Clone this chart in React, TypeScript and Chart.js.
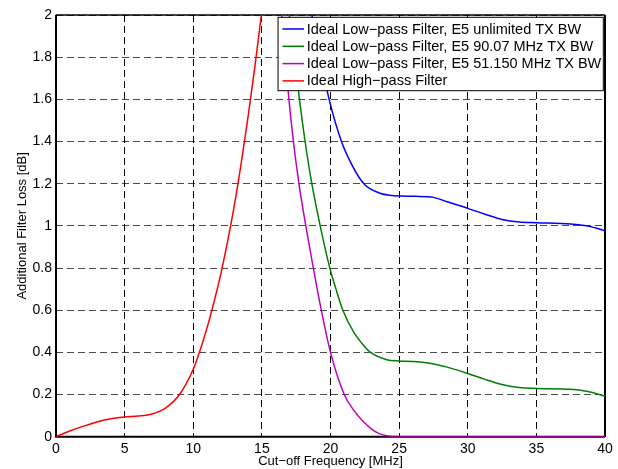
import React, { useEffect, useRef } from "react";
import { Chart, registerables } from "chart.js";

Chart.register(...registerables);

// ---- Data ----
const seriesLabels = [
  "Ideal Low\u2212pass Filter, E5 unlimited TX BW",
  "Ideal Low\u2212pass Filter, E5 90.07 MHz TX BW",
  "Ideal Low\u2212pass Filter, E5 51.150 MHz TX BW",
  "Ideal High\u2212pass Filter",
];

const freqLP1 = [18.4, 18.64, 19.25, 19.9, 20.8, 21.55, 22.1, 22.5, 22.9, 23.6, 24.3, 25.0, 26.25, 27.5, 28.5, 30.0, 31.25, 32.5, 33.75, 35.0, 37.5, 38.75, 40.0];
const lossLP1 = [2.1, 2.0, 1.8, 1.6, 1.4, 1.29, 1.228, 1.195, 1.175, 1.155, 1.145, 1.141, 1.14, 1.135, 1.114, 1.083, 1.055, 1.03, 1.018, 1.015, 1.009, 0.999, 0.977];

const freqLP2 = [16.75, 17.0, 17.74, 18.15, 18.64, 19.25, 19.95, 20.4, 20.9, 21.67, 22.28, 22.87, 24.1, 25.0, 26.0, 27.0, 28.5, 30.0, 31.25, 32.5, 33.75, 35.0, 37.5, 38.75, 40.0];
const lossLP2 = [2.15, 2.0, 1.6, 1.4, 1.2, 1.0, 0.8, 0.7, 0.6, 0.498, 0.443, 0.402, 0.365, 0.359, 0.357, 0.351, 0.33, 0.3, 0.272, 0.248, 0.233, 0.229, 0.225, 0.214, 0.193];

const freqLP3 = [16.2, 16.45, 16.7, 16.97, 17.3, 17.7, 18.2, 18.75, 19.33, 20.0, 21.0, 21.7, 22.3, 23.0, 23.5, 24.2, 25.0, 40.0];
const lossLP3 = [2.2, 2.0, 1.8, 1.6, 1.4, 1.2, 1.0, 0.8, 0.6, 0.4, 0.2, 0.125, 0.078, 0.036, 0.016, 0.003, 0, 0];

const freqHP = [0, 1, 2, 3, 4, 5, 6, 7, 8, 9, 10, 10.5, 11, 11.5, 12, 12.5, 13, 13.5, 14, 14.5, 15];
const lossHP = [0, 0.027, 0.05, 0.07, 0.085, 0.094, 0.098, 0.108, 0.137, 0.2, 0.32, 0.41, 0.515, 0.635, 0.77, 0.925, 1.1, 1.3, 1.52, 1.76, 2.02];

const seriesColors = ["#0000ff", "#008000", "#bf00bf", "#ff0000"];

const xTitle = "Cut\u2212off Frequency [MHz]";
const yTitle = "Additional Filter Loss [dB]";

const FONT = '"Liberation Sans", Arial, Helvetica, sans-serif';

const toPoints = (xs: number[], ys: number[]) => xs.map((x, i) => ({ x, y: ys[i] }));

const framePlugin = {
  id: "frame",
  beforeDatasetsDraw(chart: any) {
    const { ctx, chartArea } = chart;
    const { left, right, top, bottom } = chartArea;
    ctx.save();
    ctx.strokeStyle = "#000";
    ctx.setLineDash([]);
    ctx.lineWidth = 1.5;
    ctx.beginPath();
    ctx.moveTo(left, top);
    ctx.lineTo(right, top);
    ctx.stroke();
    ctx.lineWidth = 2;
    ctx.beginPath();
    ctx.moveTo(right, top);
    ctx.lineTo(right, bottom);
    ctx.moveTo(left, top);
    ctx.lineTo(left, bottom);
    ctx.lineTo(right, bottom);
    ctx.stroke();
    ctx.restore();
  },
};

const legendPlugin = {
  id: "boxLegend",
  afterDatasetsDraw(chart: any) {
    const { ctx, chartArea } = chart;
    const ds = chart.data.datasets;
    ctx.save();
    ctx.font = "14.5px " + FONT;
    const textW = Math.max(...ds.map((d: any) => ctx.measureText(d.label).width));
    const lineLen = 21.6;
    const padL = 4.4;
    const gap = 2.7;
    const padR = 2;
    const rowH = 17.3;
    const boxW = padL + lineLen + gap + textW + padR;
    const boxH = 73.4;
    const boxRight = chartArea.right - 1.7;
    const boxLeft = boxRight - boxW;
    const boxTop = chartArea.top + 2.3;
    ctx.fillStyle = "#fff";
    ctx.fillRect(boxLeft, boxTop, boxW, boxH);
    ctx.strokeStyle = "#000";
    ctx.lineWidth = 1;
    ctx.setLineDash([]);
    ctx.strokeRect(boxLeft, boxTop, boxW, boxH);
    ds.forEach((d: any, i: number) => {
      const cy = boxTop + 11.7 + i * rowH;
      ctx.strokeStyle = d.borderColor;
      ctx.lineWidth = 1.5;
      ctx.beginPath();
      ctx.moveTo(boxLeft + padL, cy);
      ctx.lineTo(boxLeft + padL + lineLen, cy);
      ctx.stroke();
      ctx.fillStyle = "#000";
      ctx.textAlign = "left";
      ctx.textBaseline = "middle";
      ctx.fillText(d.label, boxLeft + padL + lineLen + gap, cy + 0.5);
    });
    ctx.restore();
  },
};

export default function App() {
  const canvasRef = useRef<HTMLCanvasElement | null>(null);

  useEffect(() => {
    if (!canvasRef.current) return;
    const xsList = [freqLP1, freqLP2, freqLP3, freqHP];
    const ysList = [lossLP1, lossLP2, lossLP3, lossHP];
    const chart = new Chart(canvasRef.current, {
      type: "line",
      data: {
        datasets: seriesLabels.map((label, i) => ({
          label,
          data: toPoints(xsList[i], ysList[i]),
          borderColor: seriesColors[i],
          backgroundColor: seriesColors[i],
          borderWidth: 1.5,
          pointRadius: 0,
          fill: false,
          cubicInterpolationMode: "monotone" as const,
        })),
      },
      options: {
        animation: false,
        responsive: false,
        events: [],
        layout: { padding: { top: 15, right: 13, left: 0, bottom: 0 } },
        plugins: {
          legend: { display: false },
          tooltip: { enabled: false },
        },
        scales: {
          x: {
            type: "linear",
            min: 0,
            max: 40,
            afterFit: (s: any) => {
              s.height = 32.3;
            },
            ticks: {
              stepSize: 5,
              padding: 4,
              color: "#000",
              font: { family: FONT, size: 14 },
              maxRotation: 0,
            },
            grid: { color: "#000", lineWidth: 1, drawTicks: false },
            border: { display: false, dash: [7, 4] },
            title: {
              display: true,
              text: xTitle,
              color: "#000",
              font: { family: FONT, size: 13 },
              padding: { top: 0, bottom: 0 },
            },
          },
          y: {
            type: "linear",
            min: 0,
            max: 2,
            afterFit: (s: any) => {
              s.width = 56;
            },
            ticks: {
              stepSize: 0.2,
              padding: 4,
              color: "#000",
              font: { family: FONT, size: 14 },
              callback: (v: any) => String(Number(Number(v).toFixed(1))),
            },
            grid: { color: "rgba(0,0,0,0.7)", lineWidth: 1, drawTicks: false },
            border: { display: false, dash: [7, 4] },
            title: {
              display: true,
              text: yTitle,
              color: "#000",
              font: { family: FONT, size: 13 },
              padding: { top: 15, bottom: 0 },
            },
          },
        },
      },
      plugins: [framePlugin, legendPlugin],
    });
    return () => chart.destroy();
  }, []);

  return (
    <div style={{ position: "absolute", left: 0, top: 0, width: 618, height: 469, background: "#fff" }}>
      <canvas ref={canvasRef} width={618} height={469} style={{ display: "block" }} />
    </div>
  );
}
